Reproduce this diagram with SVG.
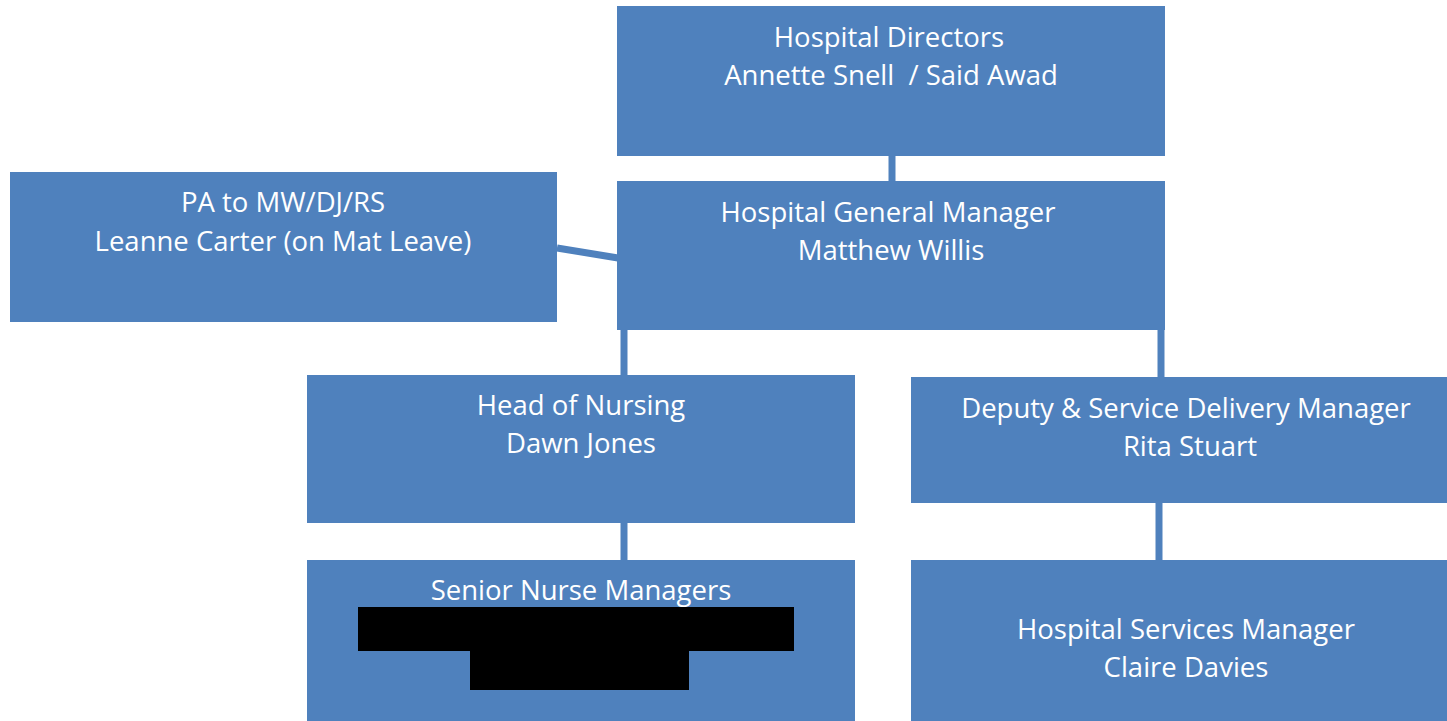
<svg xmlns="http://www.w3.org/2000/svg" width="1447" height="721" viewBox="0 0 1447 721">
<style>
.box{fill:#4F81BD}
.t{fill:#fff;font-family:"Open Sans","Liberation Sans",sans-serif;font-size:27.5px;text-anchor:middle}
.c{stroke:#4F81BD;stroke-width:7;fill:none}
.red{fill:#000}
</style>
<rect width="1447" height="721" fill="#fff"/>
<g id="connectors">
<line class="c" x1="892" y1="156" x2="892" y2="181"/>
<line class="c" x1="557" y1="248" x2="618" y2="258"/>
<line class="c" x1="624" y1="330" x2="624" y2="375"/>
<line class="c" x1="1161" y1="330" x2="1161" y2="377"/>
<line class="c" x1="624" y1="523" x2="624" y2="560"/>
<line class="c" x1="1159" y1="503" x2="1159" y2="560"/>
</g>
<g id="directors">
<rect class="box" x="617" y="6" width="548" height="150"/>
<text class="t" x="889" y="47">Hospital Directors</text>
<text class="t" x="891" y="85">Annette Snell&#160; / Said Awad</text>
</g>
<g id="pa">
<rect class="box" x="10" y="172" width="547" height="150"/>
<text class="t" x="283" y="212">PA to MW/DJ/RS</text>
<text class="t" x="283" y="251">Leanne Carter (on Mat Leave)</text>
</g>
<g id="gm">
<rect class="box" x="617" y="181" width="548" height="149"/>
<text class="t" x="888" y="222">Hospital General Manager</text>
<text class="t" x="891" y="260">Matthew Willis</text>
</g>
<g id="hon">
<rect class="box" x="307" y="375" width="548" height="148"/>
<text class="t" x="581" y="415">Head of Nursing</text>
<text class="t" x="581" y="453">Dawn Jones</text>
</g>
<g id="deputy">
<rect class="box" x="911" y="377" width="536" height="126"/>
<text class="t" x="1186" y="418">Deputy &amp; Service Delivery Manager</text>
<text class="t" x="1190" y="456">Rita Stuart</text>
</g>
<g id="snm">
<rect class="box" x="307" y="560" width="548" height="161"/>
<text class="t" x="581" y="600">Senior Nurse Managers</text>
<rect class="red" x="358" y="607" width="436" height="44"/>
<rect class="red" x="470" y="650" width="219" height="40"/>
</g>
<g id="hsm">
<rect class="box" x="911" y="560" width="536" height="161"/>
<text class="t" x="1186" y="639">Hospital Services Manager</text>
<text class="t" x="1186" y="677">Claire Davies</text>
</g>
</svg>
